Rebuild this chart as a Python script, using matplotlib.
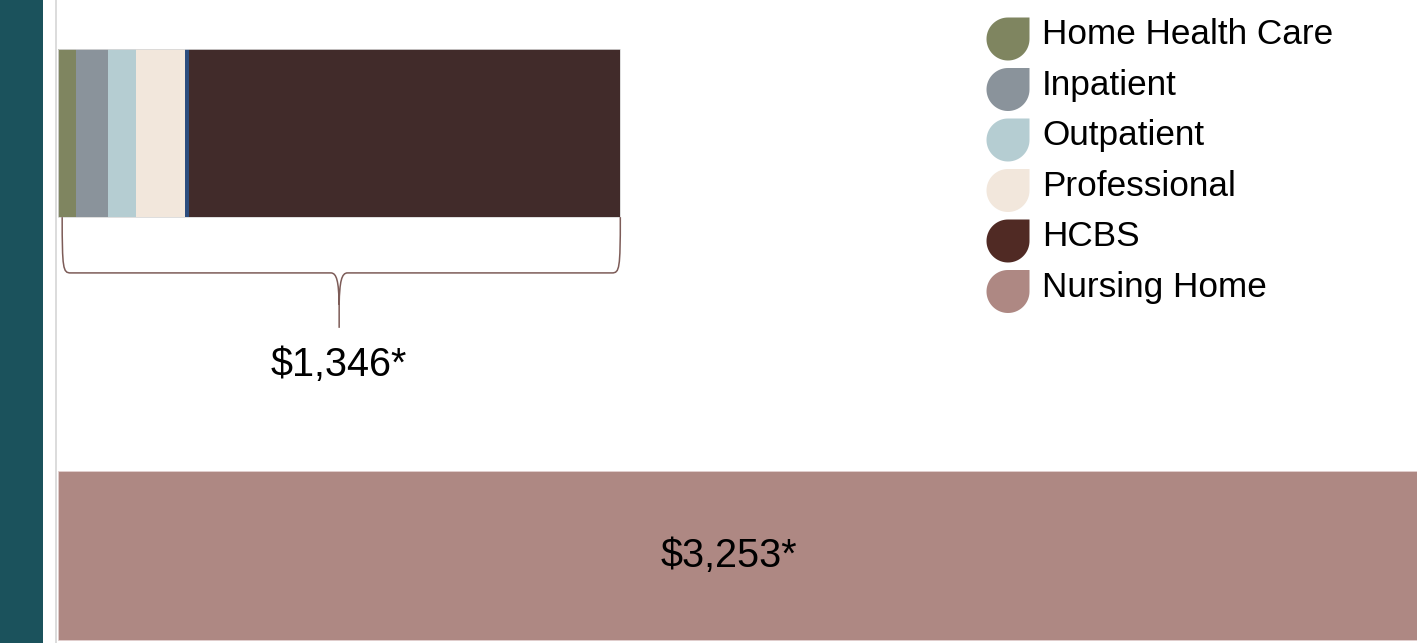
import numpy as np
import matplotlib.pyplot as plt
from matplotlib.patches import Rectangle, Polygon, PathPatch
from matplotlib.path import Path

plt.rcParams['font.family'] = ['Liberation Sans', 'DejaVu Sans']

# --- data ---
segments = ["Home Health Care", "Inpatient", "Outpatient", "Professional", "Other", "HCBS"]
seg_values = [43, 77, 67, 117, 10, 1032]
seg_colors = ["#7f8560", "#8a939b", "#b5cdd2", "#f2e7dc", "#2c4d7e", "#412b2a"]
community_label = "$1,346*"

nursing_value = 3253
nursing_color = "#ae8883"
nursing_label = "$3,253*"

legend_labels = ["Home Health Care", "Inpatient", "Outpatient", "Professional", "HCBS", "Nursing Home"]
legend_colors = ["#7f8560", "#8a939b", "#b5cdd2", "#f2e7dc", "#502a24", "#ae8883"]

W, H = 1424, 643
fig = plt.figure(figsize=(W / 100, H / 100), dpi=100)

# page decorations: teal side strip and thin grey rule
fig.add_artist(Rectangle((0, 0), 43 / W, 1, transform=fig.transFigure, color="#1b525c", lw=0))
fig.add_artist(Rectangle((55 / W, 0), 2 / W, 1, transform=fig.transFigure, color="#dcdcdc", lw=0))

ax = fig.add_axes([58 / W, 0, (1417 - 58) / W, 1])
ax.set_xlim(0, nursing_value)
ax.set_ylim(1.207, -0.315)
ax.axis("off")

bar_h = 0.398
left = 0
for v, c in zip(seg_values, seg_colors):
    ax.barh(0, v, left=left, height=bar_h, color=c, lw=0)
    left += v
total = left
ax.barh(0, total, height=bar_h, fill=False, edgecolor="#d8d8d8", lw=0.6)

ax.barh(1, nursing_value, height=bar_h, color=nursing_color, edgecolor="#e2cfcf", lw=0.6)
ax.annotate(nursing_label, (nursing_value / 2, 1), xytext=(-9, 0), textcoords="offset pixels",
            ha="center", va="center", fontsize=28.5, color="black")

# curly bracket under the stacked bar
x0, x1 = 10, total
xm = total / 2
y0 = bar_h / 2
y1 = y0 + 0.132
y2 = y0 + 0.262
verts = [
    (x0, y0), (x0, y1 - 0.01), (x0 + 2, y1), (x0 + 20, y1),
    (xm - 20, y1),
    (xm - 6, y1), (xm - 1, y1 + 0.02), (xm, y1 + 0.075),
    (xm, y2),
    (xm, y1 + 0.075), (xm + 1, y1 + 0.02), (xm + 6, y1),
    (xm + 20, y1),
    (x1 - 20, y1), (x1 - 2, y1), (x1, y1 - 0.01), (x1, y0),
]
codes = [Path.MOVETO, Path.CURVE4, Path.CURVE4, Path.CURVE4,
         Path.LINETO,
         Path.CURVE4, Path.CURVE4, Path.CURVE4,
         Path.LINETO,
         Path.MOVETO, Path.CURVE4, Path.CURVE4, Path.CURVE4,
         Path.LINETO,
         Path.CURVE4, Path.CURVE4, Path.CURVE4]
ax.add_patch(PathPatch(Path(verts, codes), fill=False, edgecolor="#7d5c58", lw=1.1))
ax.text(xm, 0.55, community_label, ha="center", va="center", fontsize=28.5, color="black")

# legend with leaf-shaped markers (pixel coordinates)
lax = fig.add_axes([0, 0, 1, 1], facecolor="none")
lax.set_xlim(0, W)
lax.set_ylim(H, 0)
lax.axis("off")
for i, (lab, col) in enumerate(zip(legend_labels, legend_colors)):
    cx, cy, rr = 1008, 39 + 50.5 * i, 21.5
    pts = [(cx, cy - rr), (cx + rr, cy - rr), (cx + rr, cy)]
    a = np.linspace(0, 1.5 * np.pi, 60)
    pts += list(zip(cx + rr * np.cos(a), cy + rr * np.sin(a)))
    lax.add_patch(Polygon(pts, closed=True, color=col, lw=0))
    lax.text(1042, cy - 4, lab, ha="left", va="center", fontsize=25.3, color="black")

fig.savefig("out.png", dpi=100)
